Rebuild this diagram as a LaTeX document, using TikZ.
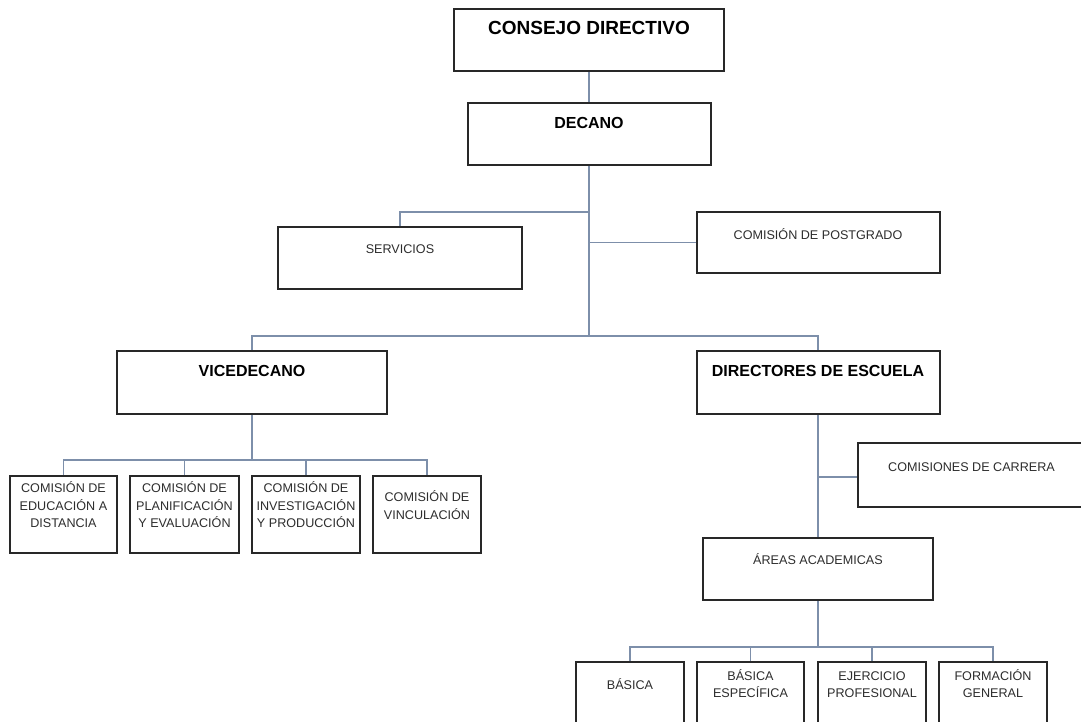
\documentclass[tikz,border=0pt]{standalone}
\usepackage{fontspec}
\setmainfont{Liberation Sans}
\begin{document}
\begin{tikzpicture}[x=1pt,y=-1pt,
  box/.style={draw={rgb,255:red,40;green,40;blue,40}, line width=2pt, rectangle, inner sep=0pt, fill=white},
  conn/.style={draw={rgb,255:red,125;green,143;blue,170}, line width=1.5pt},
  hd/.style={inner sep=0pt, anchor=base, font=\bfseries\fontsize{16}{19}\selectfont, text=black},
  lbl/.style={inner sep=0pt, anchor=base, font=\fontsize{12.6}{17.5}\selectfont, text={rgb,255:red,45;green,45;blue,45}}]
\useasboundingbox (0,0) rectangle (1081,722);
\clip (0,0) rectangle (1081,722);
\fill[white] (0,0) rectangle (1081,722);

% boxes
\node[box, minimum width=270pt, minimum height=62pt] (cd) at (589,40) {};
\node[box, minimum width=243pt, minimum height=62pt] (dec) at (589,134) {};
\node[box, minimum width=244pt, minimum height=62pt] (serv) at (400,258) {};
\node[box, minimum width=243pt, minimum height=61pt] (post) at (818,242.5) {};
\node[box, minimum width=270pt, minimum height=63pt] (vice) at (252,382.5) {};
\node[box, minimum width=243pt, minimum height=63pt] (dir) at (818,382.5) {};
\node[box, minimum width=107pt, minimum height=77pt] (c1) at (63.5,514.5) {};
\node[box, minimum width=109pt, minimum height=77pt] (c2) at (184.5,514.5) {};
\node[box, minimum width=108pt, minimum height=77pt] (c3) at (306,514.5) {};
\node[box, minimum width=108pt, minimum height=77pt] (c4) at (427,514.5) {};
\node[box, minimum width=237pt, minimum height=64pt] (car) at (976.5,475) {};
\node[box, minimum width=230pt, minimum height=62pt] (areas) at (818,569) {};
\node[box, minimum width=108pt, minimum height=80pt] (a1) at (630,702) {};
\node[box, minimum width=107pt, minimum height=80pt] (a2) at (750.5,702) {};
\node[box, minimum width=108pt, minimum height=80pt] (a3) at (872,702) {};
\node[box, minimum width=108pt, minimum height=80pt] (a4) at (993,702) {};

% junctions
\coordinate (jserv) at (589,212);
\coordinate (jpost) at (589,242.5);
\coordinate (jmain) at (589,336);
\coordinate (jv) at (252,460);
\coordinate (jcar) at (818,477);
\coordinate (ja) at (818,647);

% connectors
\draw[conn] (cd.south) -- (dec.north);
\draw[conn] (dec.south) -- (jmain);
\draw[conn] (jserv) -| (serv.north);
\draw[conn] (jpost) -- (post.west);
\draw[conn] (vice.north) |- (dir.north |- jmain) -- (dir.north);
\draw[conn] (vice.south) -- (jv);
\draw[conn] (c1.north) |- (c4.north |- jv) -- (c4.north);
\draw[conn] (c2.north) -- (c2.north |- jv);
\draw[conn] (c3.north) -- (c3.north |- jv);
\draw[conn] (dir.south) -- (areas.north);
\draw[conn] (jcar) -- (jcar -| car.west);
\draw[conn] (areas.south) -- (ja);
\draw[conn] (a1.north) |- (a4.north |- ja) -- (a4.north);
\draw[conn] (a2.north) -- (a2.north |- ja);
\draw[conn] (a3.north) -- (a3.north |- ja);

% texts
\node[hd, font=\bfseries\fontsize{19}{22}\selectfont] (tcd) at (589,34.3) {CONSEJO DIRECTIVO};
\node[hd] (tdec) at (589,128.2) {DECANO};
\node[hd] (tvice) at (252,376.7) {VICEDECANO};
\node[hd] (tdir) at (818,376.7) {DIRECTORES DE ESCUELA};
\node[lbl] (tserv) at (400,253.5) {SERVICIOS};
\node[lbl] (tpost) at (818,239) {COMISIÓN DE POSTGRADO};
\node[lbl] (tcar) at (971.5,471.5) {COMISIONES DE CARRERA};
\node[lbl] (tareas) at (818,564.5) {ÁREAS ACADEMICAS};
\node[lbl] (tc1) at (63.5,492.5) {\begin{tabular}[t]{@{}c@{}}COMISIÓN DE\\EDUCACIÓN A\\DISTANCIA\end{tabular}};
\node[lbl] (tc2) at (184.5,492.5) {\begin{tabular}[t]{@{}c@{}}COMISIÓN DE\\PLANIFICACIÓN\\Y EVALUACIÓN\end{tabular}};
\node[lbl] (tc3) at (306,492.5) {\begin{tabular}[t]{@{}c@{}}COMISIÓN DE\\INVESTIGACIÓN\\Y PRODUCCIÓN\end{tabular}};
\node[lbl] (tc4) at (427,501.5) {\begin{tabular}[t]{@{}c@{}}COMISIÓN DE\\VINCULACIÓN\end{tabular}};
\node[lbl] (ta1) at (630,689) {BÁSICA};
\node[lbl] (ta2) at (750.5,680) {\begin{tabular}[t]{@{}c@{}}BÁSICA\\ESPECÍFICA\end{tabular}};
\node[lbl] (ta3) at (872,680) {\begin{tabular}[t]{@{}c@{}}EJERCICIO\\PROFESIONAL\end{tabular}};
\node[lbl] (ta4) at (993,680) {\begin{tabular}[t]{@{}c@{}}FORMACIÓN\\GENERAL\end{tabular}};
\end{tikzpicture}
\end{document}
